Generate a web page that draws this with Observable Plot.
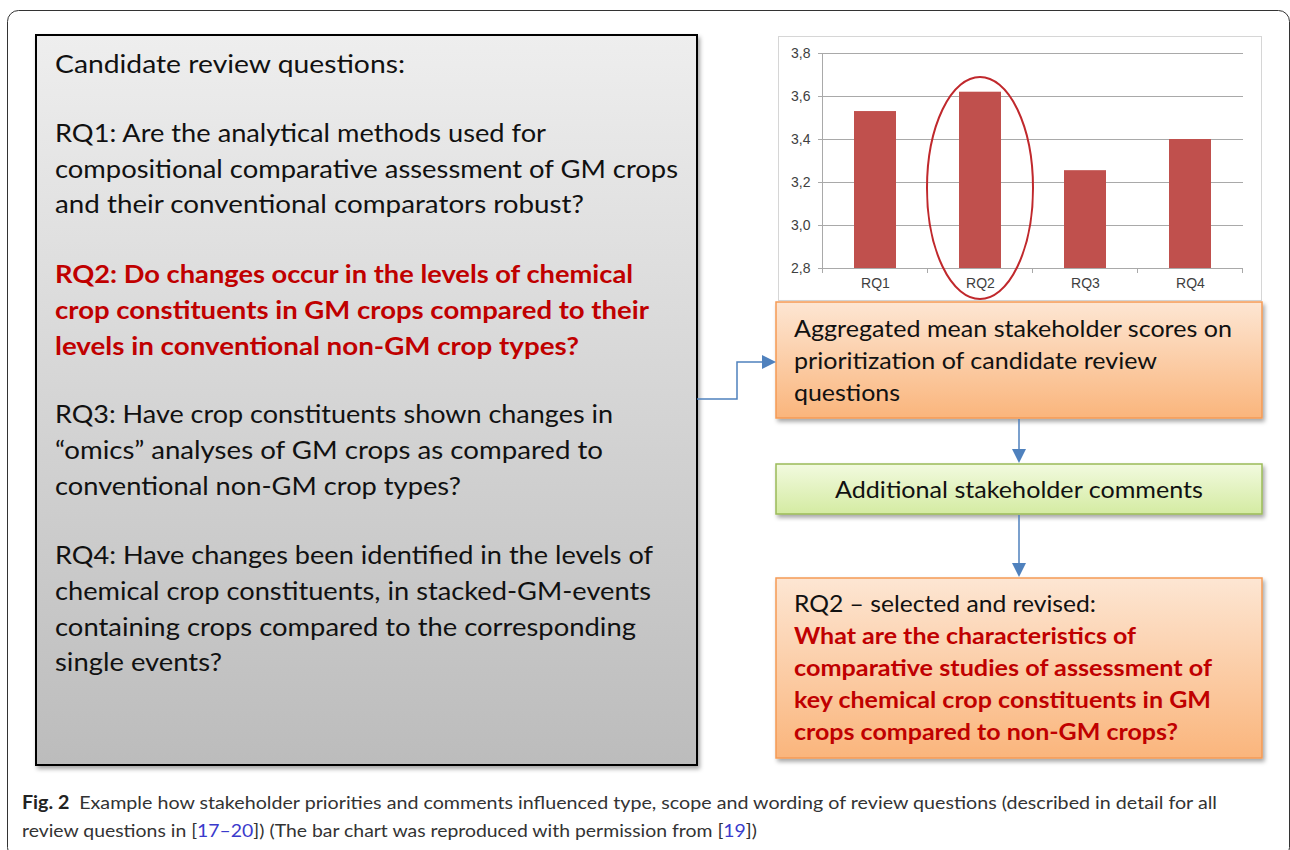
<!DOCTYPE html>
<html>
<head>
<meta charset="utf-8">
<script src="https://cdn.jsdelivr.net/npm/d3@7"></script>
<script src="https://cdn.jsdelivr.net/npm/@observablehq/plot@0.6"></script>
<style>
  html, body { margin: 0; padding: 0; background: #fff; }
  #page { position: relative; width: 1290px; height: 850px; overflow: hidden; }
  #diagram { position: absolute; left: 0; top: 0; }
  #chart { position: absolute; left: 778px; top: 36px; width: 484px; height: 264px; }
</style>
</head>
<body>
<div id="page">
  <svg id="diagram" width="1290" height="850"></svg>
  <div id="chart"></div>
</div>
<script>
// ---------- chart data ----------
const categories = ["RQ1", "RQ2", "RQ3", "RQ4"];
const scores = [3.53, 3.62, 3.255, 3.40];
const yTicks = [2.8, 3.0, 3.2, 3.4, 3.6, 3.8];
const highlighted = "RQ2";

// ---------- diagram texts ----------
const candidateTitle = "Candidate review questions:";
const rq1Lines = ["RQ1: Are the analytical methods used for", "compositional comparative assessment of GM crops", "and their conventional comparators robust?"];
const rq2Lines = ["RQ2: Do changes occur in the levels of chemical", "crop constituents in GM crops compared to their", "levels in conventional non-GM crop types?"];
const rq3Lines = ["RQ3: Have crop constituents shown changes in", "\u201Comics\u201D analyses of GM crops as compared to", "conventional non-GM crop types?"];
const rq4Lines = ["RQ4: Have changes been identified in the levels of", "chemical crop constituents, in stacked-GM-events", "containing crops compared to the corresponding", "single events?"];
const aggregatedLines = ["Aggregated mean stakeholder scores on", "prioritization of candidate review", "questions"];
const commentsText = "Additional stakeholder comments";
const selectedHead = "RQ2 \u2013 selected and revised:";
const selectedLines = ["What are the characteristics of", "comparative studies of assessment of", "key chemical crop constituents in GM", "crops compared to non-GM crops?"];

// ---------- bar chart ----------
const data = categories.map((c, i) => ({rq: c, score: scores[i]}));
const fmt = d => d.toFixed(1).replace(".", ",");

const chart = Plot.plot({
  width: 484,
  height: 264,
  marginLeft: 44,
  marginRight: 19,
  marginTop: 17,
  marginBottom: 32,
  style: {background: "transparent", fontFamily: "'Liberation Sans', Arial, sans-serif", fontSize: "14px", color: "#404040", overflow: "visible"},
  x: {domain: categories, paddingInner: 0.6, paddingOuter: 0.3, label: null},
  y: {domain: [2.8, 3.8], label: null},
  marks: [
    Plot.ruleY(yTicks, {stroke: "#a9a9a9", strokeWidth: 1}),
    Plot.barY(data, {x: "rq", y1: yTicks[0], y2: "score", fill: "#c0504d"}),
    Plot.axisY({ticks: yTicks, tickFormat: fmt, tickSize: 4, tickPadding: 8, stroke: "#a9a9a9", fill: "#404040", label: null}),
    Plot.axisX({tickSize: 0, tickPadding: 10, fill: "#404040", label: null})
  ]
});
document.getElementById("chart").appendChild(chart);

// extra chart decorations placed with the chart's own scales
(function decorate() {
  const sx = chart.scale("x");
  const sy = chart.scale("y");
  const svg = d3.select(chart);
  const y0 = sy.apply(yTicks[0]);
  const y1 = sy.apply(yTicks[yTicks.length - 1]);
  const start = sx.apply(categories[0]) - (sx.step - sx.bandwidth) / 2;
  // y axis line
  svg.append("line").attr("x1", start).attr("x2", start).attr("y1", y0).attr("y2", y1)
    .attr("stroke", "#a9a9a9");
  // category boundary ticks
  for (let k = 0; k <= categories.length; k++) {
    const xx = start + k * sx.step;
    svg.append("line").attr("x1", xx).attr("x2", xx).attr("y1", y0).attr("y2", y0 + 5).attr("stroke", "#a9a9a9");
  }
  // highlight ellipse around the selected question
  const cx = sx.apply(highlighted) + sx.bandwidth / 2;
  svg.append("ellipse").attr("cx", cx).attr("cy", 152).attr("rx", 53).attr("ry", 111)
    .attr("fill", "none").attr("stroke", "#c0282c").attr("stroke-width", 2);
})();

// ---------- diagram ----------
const dg = d3.select("#diagram");
const defs = dg.append("defs");
function grad(id, c0, c1) {
  const g = defs.append("linearGradient").attr("id", id).attr("x1", 0).attr("y1", 0).attr("x2", 0).attr("y2", 1);
  g.append("stop").attr("offset", "0%").attr("stop-color", c0);
  g.append("stop").attr("offset", "100%").attr("stop-color", c1);
}
grad("gGray", "#eeeeee", "#bcbcbc");
grad("gOrange", "#fde6d3", "#fab57c");
grad("gGreen", "#f2fadf", "#d4eba2");
const f = defs.append("filter").attr("id", "shadow").attr("x", "-5%").attr("y", "-5%").attr("width", "115%").attr("height", "120%");
f.append("feDropShadow").attr("dx", 2).attr("dy", 3).attr("stdDeviation", 2).attr("flood-color", "#000").attr("flood-opacity", 0.35);

// outer frame (runs off the right and bottom edges)
dg.append("rect").attr("x", 7.5).attr("y", 10.5).attr("width", 1282).attr("height", 848).attr("rx", 11)
  .attr("fill", "none").attr("stroke", "#333").attr("stroke-width", 1);

// left box
dg.append("rect").attr("x", 36).attr("y", 35).attr("width", 661).attr("height", 730)
  .attr("fill", "url(#gGray)").attr("stroke", "#000").attr("stroke-width", 2).attr("filter", "url(#shadow)");

// chart frame
dg.append("rect").attr("x", 778.5).attr("y", 36.5).attr("width", 483).attr("height", 264)
  .attr("fill", "#fff").attr("stroke", "#d6d6d6").attr("stroke-width", 1);

// orange box 1
dg.append("rect").attr("x", 776).attr("y", 302).attr("width", 486).attr("height", 116)
  .attr("fill", "url(#gOrange)").attr("stroke", "#f59a55").attr("stroke-width", 1.5).attr("filter", "url(#shadow)");
// green box
dg.append("rect").attr("x", 776).attr("y", 464).attr("width", 486).attr("height", 50)
  .attr("fill", "url(#gGreen)").attr("stroke", "#9bbb59").attr("stroke-width", 1.5).attr("filter", "url(#shadow)");
// orange box 2
dg.append("rect").attr("x", 776).attr("y", 578).attr("width", 486).attr("height", 180)
  .attr("fill", "url(#gOrange)").attr("stroke", "#f59a55").attr("stroke-width", 1.5).attr("filter", "url(#shadow)");

// arrows
const blue = "#4f81bd";
dg.append("path").attr("d", "M697,399H737V362H762").attr("fill", "none").attr("stroke", blue).attr("stroke-width", 1.5);
dg.append("path").attr("d", "M762,355L776,362L762,369Z").attr("fill", blue);
dg.append("path").attr("d", "M1019,419V449").attr("stroke", blue).attr("stroke-width", 1.5);
dg.append("path").attr("d", "M1012,449L1026,449L1019,463Z").attr("fill", blue);
dg.append("path").attr("d", "M1019,515V563").attr("stroke", blue).attr("stroke-width", 1.5);
dg.append("path").attr("d", "M1012,563L1026,563L1019,577Z").attr("fill", blue);

// text helper
function line(txt, x, y, w, size, bold, color, family) {
  dg.append("text").attr("x", x).attr("y", y)
    .attr("font-family", family || "Lato, 'Open Sans', sans-serif")
    .attr("font-size", size).attr("font-weight", bold ? 700 : 400)
    .attr("fill", color).attr("textLength", w).attr("lengthAdjust", "spacingAndGlyphs")
    .text(txt);
}
const red = "#c00000";
const ink = "#111";
line(candidateTitle, 55, 73, 350, 25, false, ink);
[[rq1Lines, [142, 178, 213], [491, 623, 529], false, ink],
 [rq2Lines, [283, 319, 355], [578, 594, 524], true, red],
 [rq3Lines, [423, 459, 495], [558, 548, 406], false, ink],
 [rq4Lines, [564, 600, 636, 671], [598, 596, 581, 167], false, ink]]
 .forEach(([lines, ys, ws, b, c]) => lines.forEach((t, i) => line(t, 55, ys[i], ws[i], 25, b, c)));

aggregatedLines.forEach((t, i) => line(t, 794, [337, 369, 401][i], [438, 363, 106][i], 23.5, false, ink));
line(commentsText, 835, 498, 368, 23.5, false, ink);
line(selectedHead, 794, 612, 302, 23.5, false, ink);
selectedLines.forEach((t, i) => line(t, 794, [644, 676, 708, 740][i], [342, 418, 417, 384][i], 23.5, true, red));

// caption
const cap1 = dg.append("text").attr("x", 22).attr("y", 809).attr("font-family", "Lato, 'Open Sans', sans-serif")
  .attr("font-size", 18).attr("fill", "#333").attr("textLength", 1195).attr("lengthAdjust", "spacingAndGlyphs");
cap1.append("tspan").attr("font-weight", 700).attr("fill", "#222").text("Fig. 2");
cap1.append("tspan").attr("dx", 9).text("Example how stakeholder priorities and comments influenced type, scope and wording of review questions (described in detail for all");
const cap2 = dg.append("text").attr("x", 22).attr("y", 837).attr("font-family", "Lato, 'Open Sans', sans-serif")
  .attr("font-size", 18).attr("fill", "#333").attr("textLength", 735).attr("lengthAdjust", "spacingAndGlyphs");
cap2.append("tspan").text("review questions in [");
cap2.append("tspan").attr("fill", "#3a3acc").text("17\u201320");
cap2.append("tspan").text("]) (The bar chart was reproduced with permission from [");
cap2.append("tspan").attr("fill", "#3a3acc").text("19");
cap2.append("tspan").text("])");
</script>
</body>
</html>
